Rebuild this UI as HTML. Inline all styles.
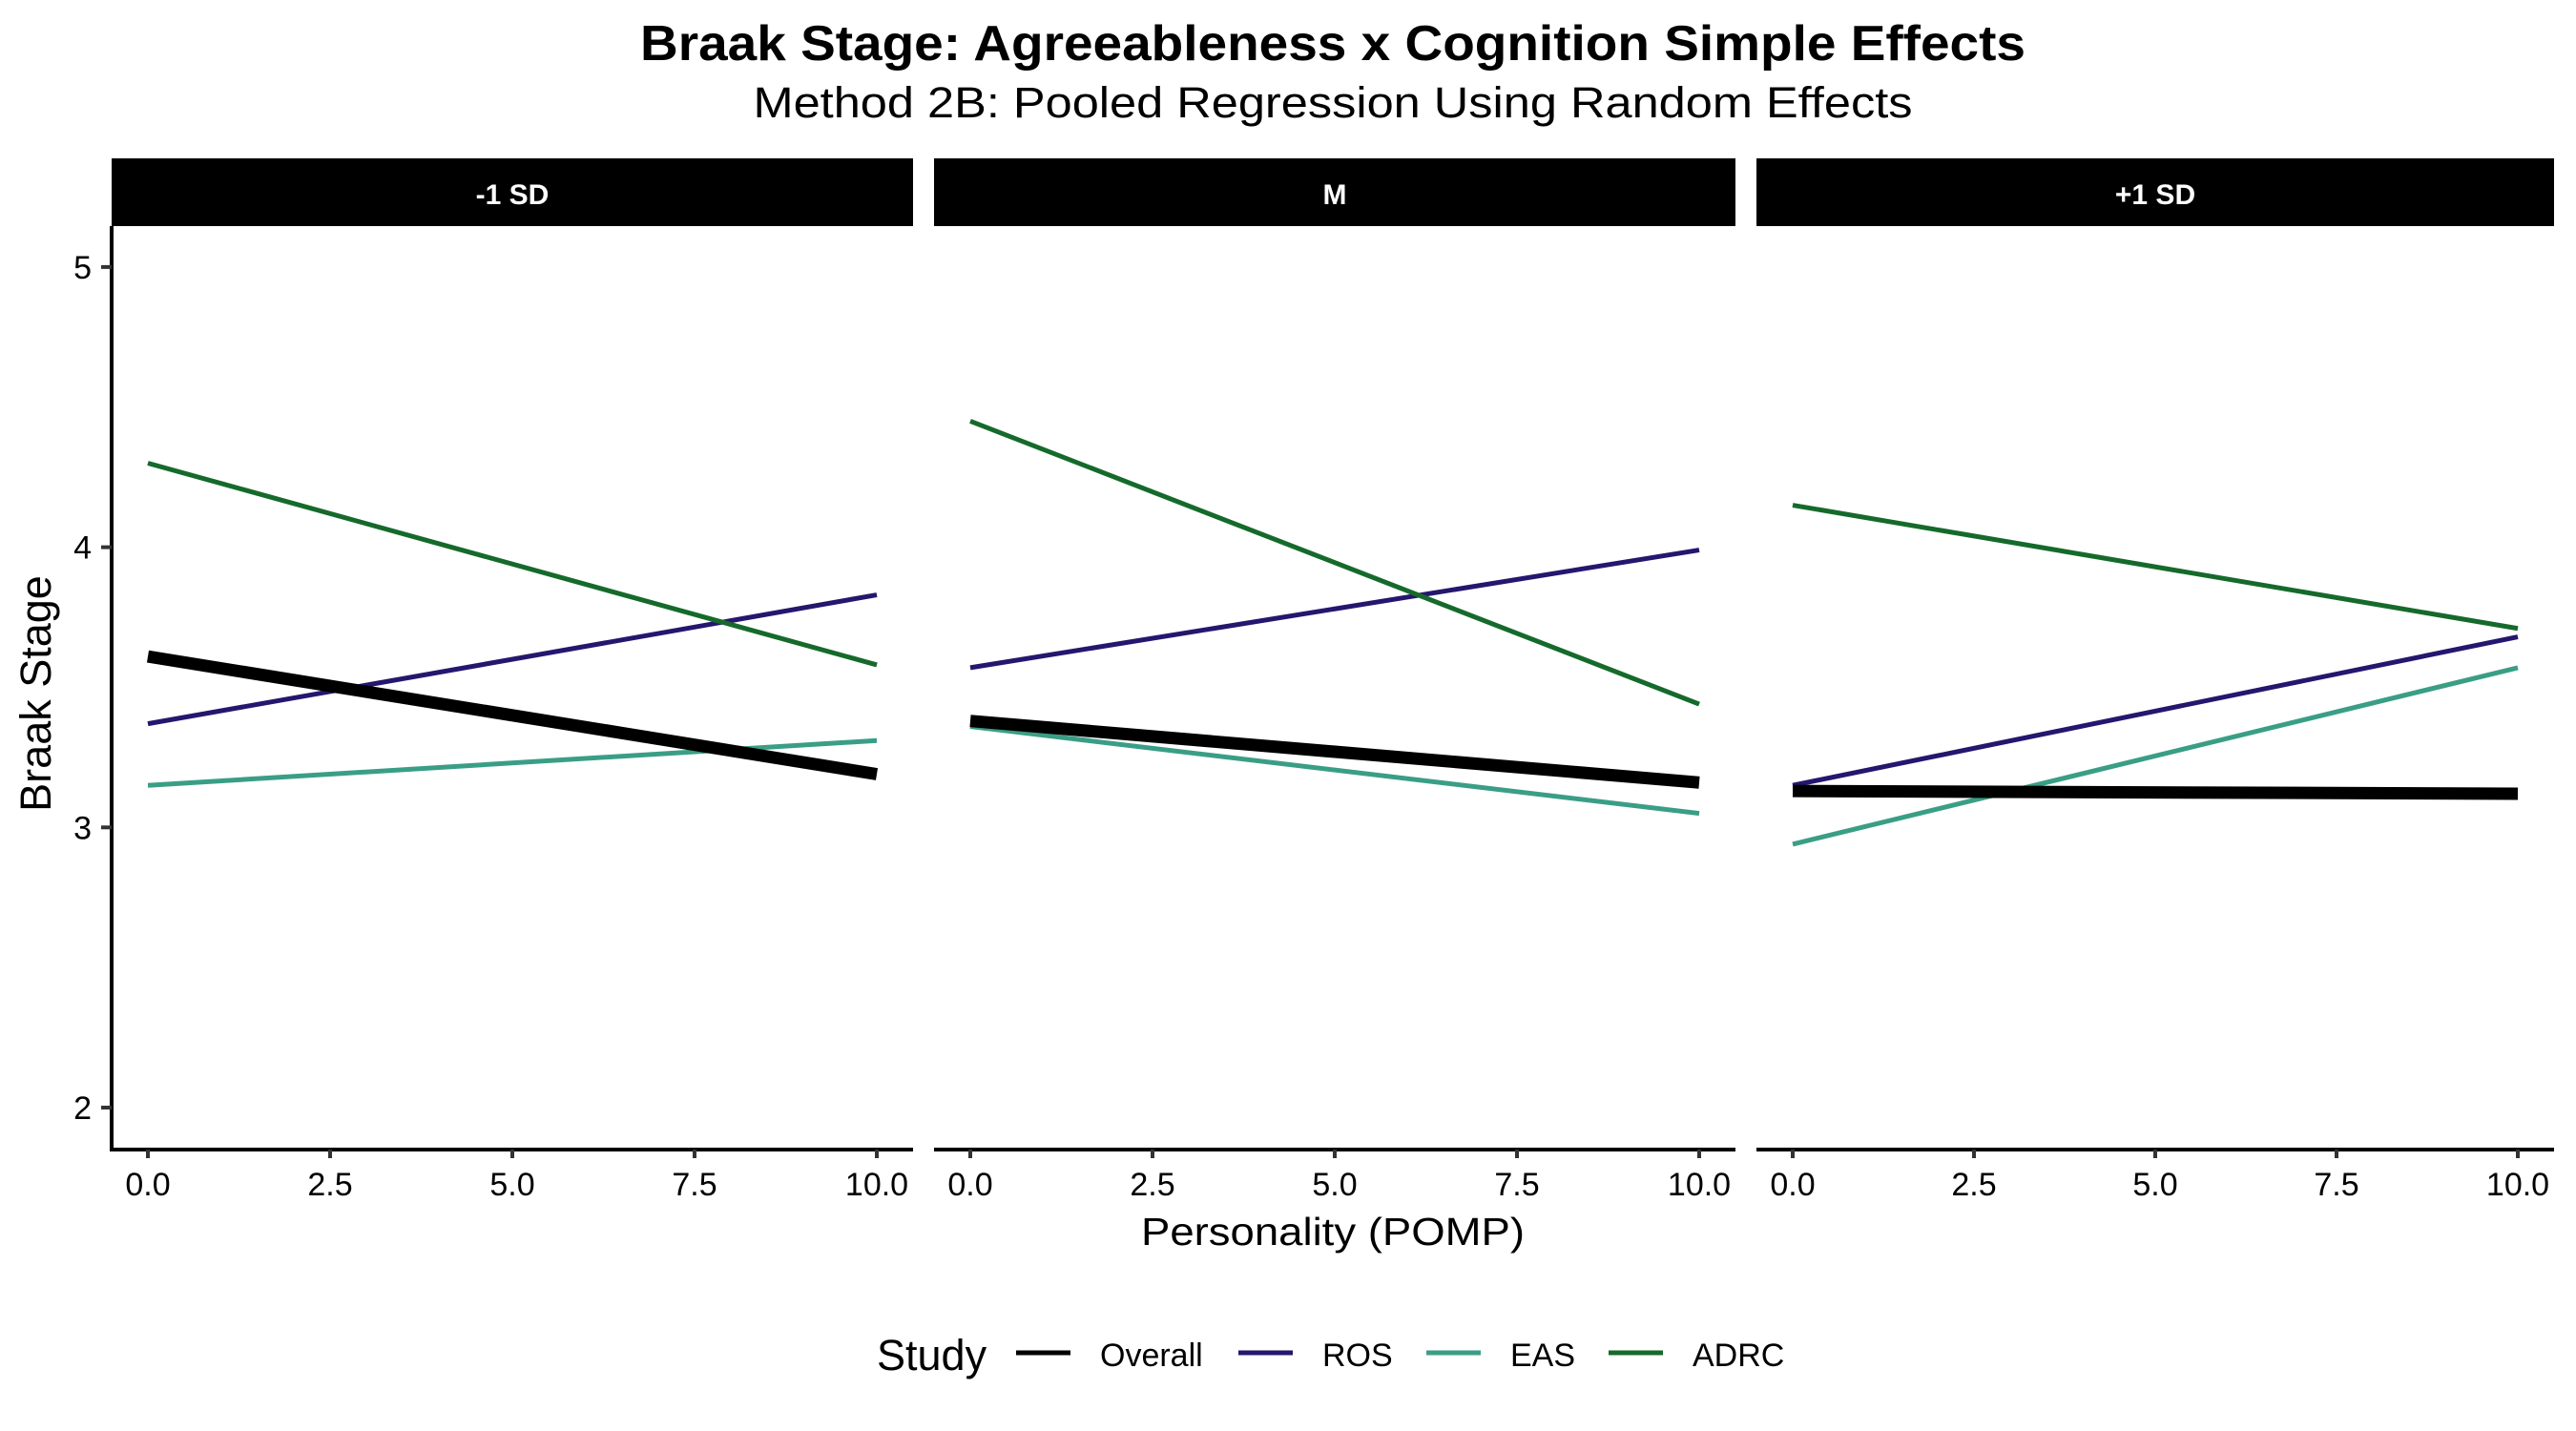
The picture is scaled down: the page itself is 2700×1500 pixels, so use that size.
<!DOCTYPE html>
<html><head><meta charset="utf-8"><style>
html,body{margin:0;padding:0;background:#fff;}
svg{display:block;font-family:"Liberation Sans",Arial,sans-serif;}
</style></head><body>
<svg id="chart" width="2700" height="1500" viewBox="0 0 2700 1500" xmlns="http://www.w3.org/2000/svg">
<text x="1397" y="63" text-anchor="middle" font-weight="bold" font-size="52" textLength="1452" lengthAdjust="spacingAndGlyphs">Braak Stage: Agreeableness x Cognition Simple Effects</text>
<text x="1397" y="123" text-anchor="middle" font-size="45" textLength="1215" lengthAdjust="spacingAndGlyphs">Method 2B: Pooled Regression Using Random Effects</text>
<text transform="translate(53,727) rotate(-90)" text-anchor="middle" font-size="45">Braak Stage</text>
<text x="1397" y="1305" text-anchor="middle" font-size="41" textLength="402" lengthAdjust="spacingAndGlyphs">Personality (POMP)</text>
<g id="panels"></g>
<g id="legend"></g>
</svg>
<script>
const panelLabels = ["-1 SD", "M", "+1 SD"];
const seriesNames = ["ROS", "EAS", "ADRC", "Overall"];
const xDomain = [0, 10];
const xTicks = [0, 2.5, 5, 7.5, 10];
const xTickLabels = ["0.0", "2.5", "5.0", "7.5", "10.0"];
const yTicks = [2, 3, 4, 5];
const yTickLabels = ["2", "3", "4", "5"];
// start (x=0) and end (x=10) values per panel
const rosStart = [3.37, 3.57, 3.15];
const rosEnd = [3.83, 3.99, 3.68];
const easStart = [3.15, 3.36, 2.94];
const easEnd = [3.31, 3.05, 3.57];
const adrcStart = [4.30, 4.45, 4.15];
const adrcEnd = [3.58, 3.44, 3.71];
const overallStart = [3.61, 3.38, 3.13];
const overallEnd = [3.19, 3.16, 3.12];

const NS = "http://www.w3.org/2000/svg";
function mk(tag, attrs, parent){const e=document.createElementNS(NS,tag);for(const k in attrs)e.setAttribute(k,attrs[k]);parent.appendChild(e);return e;}
const panelLeft=[117,979,1841], panelRight=[957,1819,2677];
const plotTop=237, plotBottom=1205, stripTop=166;
function xScale(p,v){const x0=panelLeft[p]+38, x1=panelRight[p]-38;return x0+(v-xDomain[0])/(xDomain[1]-xDomain[0])*(x1-x0);}
function yScale(v){return 1161-(v-2)*293.7;}
const styles={ROS:{c:"#25166e",w:5},EAS:{c:"#3a9e86",w:5},ADRC:{c:"#156a2b",w:5},Overall:{c:"#000",w:13}};
const data={ROS:[rosStart,rosEnd],EAS:[easStart,easEnd],ADRC:[adrcStart,adrcEnd],Overall:[overallStart,overallEnd]};
const root=document.getElementById("panels");
for(let p=0;p<3;p++){
  const g=mk("g",{},root);
  
  
  const s=mk("rect",{x:panelLeft[p],y:stripTop,width:panelRight[p]-panelLeft[p],height:plotTop-stripTop,fill:"#000"},g);
  
  
  const st=mk("text",{x:(panelLeft[p]+panelRight[p])/2,y:214,"text-anchor":"middle","font-weight":"bold","font-size":"30",fill:"#fff"},g);
  st.textContent=panelLabels[p];
  
  
  const xa=mk("line",{x1:panelLeft[p],x2:panelRight[p],y1:plotBottom,y2:plotBottom,stroke:"#000","stroke-width":4},g);
  
  
  xTicks.forEach((t,i)=>{
    const x=xScale(p,t);
    const tk=mk("line",{x1:x,x2:x,y1:plotBottom,y2:plotBottom+9,stroke:"#333","stroke-width":4},g);
    
    
    const tl=mk("text",{x:x,y:1253,"text-anchor":"middle","font-size":"34",fill:"#000"},g);
    tl.textContent=xTickLabels[i];
    
    
  });
  seriesNames.forEach(n=>{
    const st=styles[n];
    const l=mk("line",{x1:xScale(p,xDomain[0]),y1:yScale(data[n][0][p]),x2:xScale(p,xDomain[1]),y2:yScale(data[n][1][p]),stroke:st.c,"stroke-width":st.w},g);
    
    
  });
}
const ya=mk("line",{x1:117,x2:117,y1:plotTop,y2:plotBottom+2,stroke:"#000","stroke-width":4},root);


yTicks.forEach((t,i)=>{
  const y=yScale(t);
  const tk=mk("line",{x1:106,x2:117,y1:y,y2:y,stroke:"#333","stroke-width":4},root);
  
  
  const tl=mk("text",{x:96,y:y+12,"text-anchor":"end","font-size":"34"},root);
  tl.textContent=yTickLabels[i];
  
  
});
const leg=document.getElementById("legend");
const lt=mk("text",{x:919,y:1436,"font-size":"45"},leg);
lt.textContent="Study";


const legOrder=["Overall","ROS","EAS","ADRC"];
const legX=[1065,1298,1495,1686];
legOrder.forEach((n,i)=>{
  const k=mk("line",{x1:legX[i],x2:legX[i]+57,y1:1418,y2:1418,stroke:styles[n].c,"stroke-width":5},leg);
  
  
  const t=mk("text",{x:legX[i]+88,y:1432,"font-size":"34"},leg);
  t.textContent=n;
  
  
});
</script>
</body></html>
